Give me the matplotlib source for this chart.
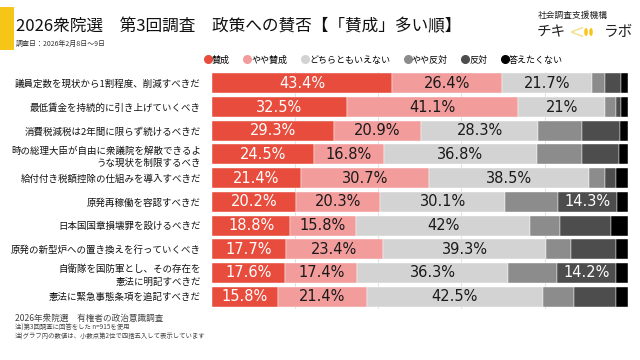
import numpy as np
import matplotlib.pyplot as plt
from matplotlib.lines import Line2D
from matplotlib.patches import Polygon, Ellipse, Rectangle

plt.rcParams['font.family'] = ['Noto Sans CJK JP', 'DejaVu Sans']

# データ（上から順）
questions = [
    "議員定数を現状から1割程度、削減すべきだ",
    "最低賃金を持続的に引き上げていくべき",
    "消費税減税は2年間に限らず続けるべきだ",
    "時の総理大臣が自由に衆議院を解散できるよ\nうな現状を制限するべき",
    "給付付き税額控除の仕組みを導入すべきだ",
    "原発再稼働を容認すべきだ",
    "日本国国章損壊罪を設けるべきだ",
    "原発の新型炉への置き換えを行っていくべき",
    "自衛隊を国防軍とし、その存在を\n憲法に明記すべきだ",
    "憲法に緊急事態条項を追記すべきだ",
]
categories = ["賛成", "やや賛成", "どちらともいえない", "やや反対", "反対", "答えたくない"]
sansei      = [43.4, 32.5, 29.3, 24.5, 21.4, 20.2, 18.8, 17.7, 17.6, 15.8]
yaya_sansei = [26.4, 41.1, 20.9, 16.8, 30.7, 20.3, 15.8, 23.4, 17.4, 21.4]
dochira     = [21.7, 21.0, 28.3, 36.8, 38.5, 30.1, 42.0, 39.3, 36.3, 42.5]
yaya_hantai = [3.1, 2.7, 10.5, 10.9, 3.9, 12.6, 7.0, 6.0, 11.6, 7.3]
hantai      = [3.9, 1.1, 9.2, 8.9, 2.6, 14.3, 12.4, 10.7, 14.2, 10.3]
kotaetakunai = [1.5, 1.6, 1.8, 2.1, 2.9, 2.5, 4.0, 2.9, 2.9, 2.7]

series = [sansei, yaya_sansei, dochira, yaya_hantai, hantai, kotaetakunai]
colors = ["#E84C3D", "#F29C9C", "#D3D3D3", "#8C8C8C", "#4D4D4D", "#000000"]
text_colors = ["white", "#1a1a1a", "#1a1a1a", "white", "white", "white"]

fig = plt.figure(figsize=(6.4, 3.6), dpi=100)
fig.patch.set_facecolor("white")


def px(x, y):
    return (x / 640, 1 - y / 360)


ax = fig.add_axes([212 / 640, 1 - 308.5 / 360, (627.7 - 212) / 640, (308.5 - 71.5) / 360])

y = np.arange(len(questions))
left = np.zeros(len(questions))
for vals, col, tcol in zip(series, colors, text_colors):
    vals = np.array(vals)
    ax.barh(y, vals, left=left, height=0.84, color=col, edgecolor="white",
            linewidth=0.3, zorder=2)
    for yi, (l, v) in enumerate(zip(left, vals)):
        if v >= 13:
            ax.text(l + v / 2, yi, f"{v:g}%", ha="center", va="center",
                    color=tcol, fontsize=10.5, family="DejaVu Sans", zorder=3)
    left += vals

ax.set_xlim(0, 100)
ax.set_ylim(len(questions) - 0.5, -0.5)
for g in [20, 40, 60, 80]:
    ax.axvline(g, color="#e2e2e2", linewidth=0.8, zorder=1)
ax.set_xticks([])
ax.set_yticks(y)
ax.set_yticklabels(questions, fontsize=6.8, linespacing=1.45, color="#111111")
ax.tick_params(axis="y", length=0, pad=8)
for s in ax.spines.values():
    s.set_visible(False)

# 凡例
handles = [Line2D([0], [0], marker="o", linestyle="", markersize=5.5,
                  markerfacecolor=c, markeredgecolor=c) for c in colors]
fig.legend(handles, categories, loc="center", bbox_to_anchor=(px(384, 60)),
           ncol=6, frameon=False, fontsize=6.5, handlelength=0.6,
           handletextpad=0.15, columnspacing=1.65)

# タイトル
fig.add_artist(Rectangle(px(0, 50), 14 / 640, 43 / 360, transform=fig.transFigure,
                         facecolor="#F5C518", edgecolor="none"))
fig.text(*px(16, 27), "2026衆院選　第3回調査　政策への賛否【「賛成」多い順】",
         fontsize=12, va="center", ha="left", color="#111111")
fig.text(*px(16, 44), "調査日：2026年2月8日～9日", fontsize=5, va="center",
         ha="left", color="#333333")

# ロゴ
fig.text(*px(538, 15), "社会調査支援機構", fontsize=6.3, va="center", ha="left",
         color="#222222")
fig.text(*px(537, 32), "チキ", fontsize=10.5, va="center", ha="left", color="#222222")
fig.text(*px(604, 32), "ラボ", fontsize=10.5, va="center", ha="left", color="#222222")
fig.add_artist(Polygon([px(583, 27.5), px(571, 32), px(583, 36.5)], closed=False,
                       transform=fig.transFigure, fill=False,
                       edgecolor="#F3E29A", linewidth=1.2))
for cx in [586, 591]:
    fig.add_artist(Ellipse(px(cx, 32), 3.5 / 640, 8 / 360, transform=fig.transFigure,
                           facecolor="#F5C518", edgecolor="none"))

# 注記
fig.text(*px(15, 318), "2026年衆院選　有権者の政治意識調査", fontsize=6.2,
         va="center", ha="left", color="#444444")
fig.text(*px(15, 328), "注)第3回調査に回答をした n=915を使用", fontsize=4.6,
         va="center", ha="left", color="#444444")
fig.text(*px(15, 337), "注)グラフ内の数値は、小数点第2位で四捨五入して表示しています",
         fontsize=4.6, va="center", ha="left", color="#444444")

fig.savefig("out.png", dpi=100)
